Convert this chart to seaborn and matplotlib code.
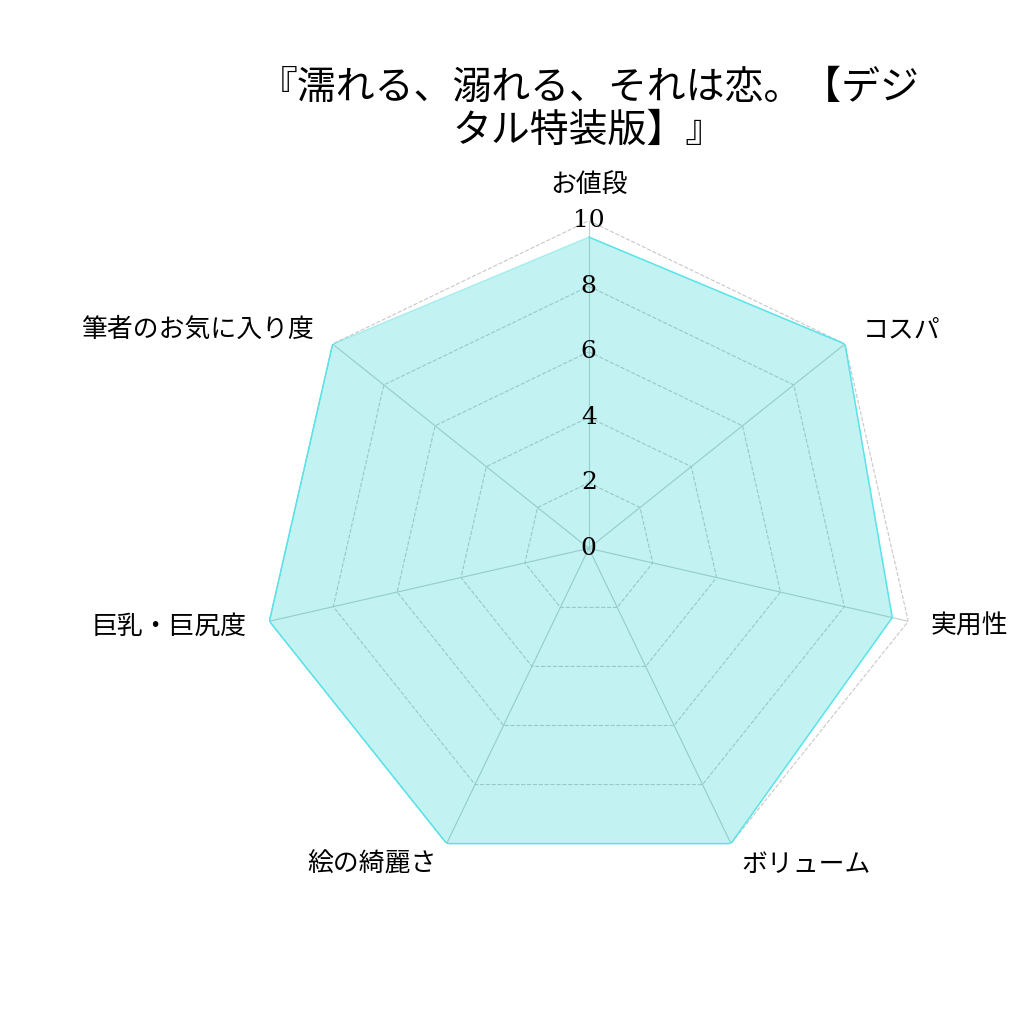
import numpy as np
import pandas as pd
import seaborn as sns
import matplotlib.pyplot as plt

# chart data
title = '『濡れる、溺れる、それは恋。【デジ\nタル特装版】』'
categories = ['お値段', 'コスパ', '実用性', 'ボリューム', '絵の綺麗さ', '巨乳・巨尻度', '筆者のお気に入り度']
scores = [9.5, 10, 9.5, 10, 10, 10, 10]
r_ticks = [0, 2, 4, 6, 8, 10]

sns.set_style("white")
plt.rcParams['font.family'] = ['Noto Sans CJK JP', 'DejaVu Sans']
plt.rcParams['text.color'] = 'black'

n = len(categories)
angles = np.linspace(0, 2 * np.pi, n, endpoint=False)
df = pd.DataFrame({'angle': np.append(angles, angles[0]),
                   'score': scores + scores[:1]})

fig = plt.figure(figsize=(10.24, 10.24), dpi=100)
ax = fig.add_axes([0.255, 0.1445, 0.64, 0.64], projection='polar')
ax.set_theta_offset(np.pi / 2)
ax.set_theta_direction(-1)
ax.set_ylim(0, 10)

# polygon grid instead of circles
ax.yaxis.grid(False)
ax.set_yticks(r_ticks)
ax.set_yticklabels([])
for r in r_ticks[1:]:
    ax.plot(np.append(angles, angles[0]), [r] * (n + 1), color='#c8c8c8',
            lw=0.8, ls='--', zorder=1)
ax.set_xticks(angles)
ax.set_xticklabels([])
ax.xaxis.grid(True, color='#c4cccc', lw=0.8)
ax.spines['polar'].set_visible(False)

# data polygon
ax.fill(df['angle'], df['score'], color='#00cccc', alpha=0.24, zorder=2)
sns.lineplot(data=df, x='angle', y='score', sort=False, color='#58e4ea',
             lw=1.0, ax=ax, zorder=3)
ax.set_xlabel('')
ax.set_ylabel('')

# category labels just outside the outer ring
pad = 16.5
for cat, a in zip(categories, angles):
    dx, dy = pad * np.sin(a), pad * np.cos(a)
    if np.isclose(a, 0):
        ha, va = 'center', 'bottom'
    elif a < np.pi:
        ha, va = 'left', 'center'
    else:
        ha, va = 'right', 'center'
    ax.annotate(cat, xy=(a, r_ticks[-1]), xytext=(dx, dy),
                textcoords='offset points', ha=ha, va=va, fontsize=18.6,
                color='black')

# radial value labels
for r in r_ticks:
    ax.text(0, r, str(r), ha='center', va='center', fontsize=18,
            family='DejaVu Serif', color='black', zorder=4)

ax.set_title(title, fontsize=28, y=1.12, pad=0, linespacing=1.1,
             color='black')

fig.savefig('out.png', dpi=100, facecolor='white')
